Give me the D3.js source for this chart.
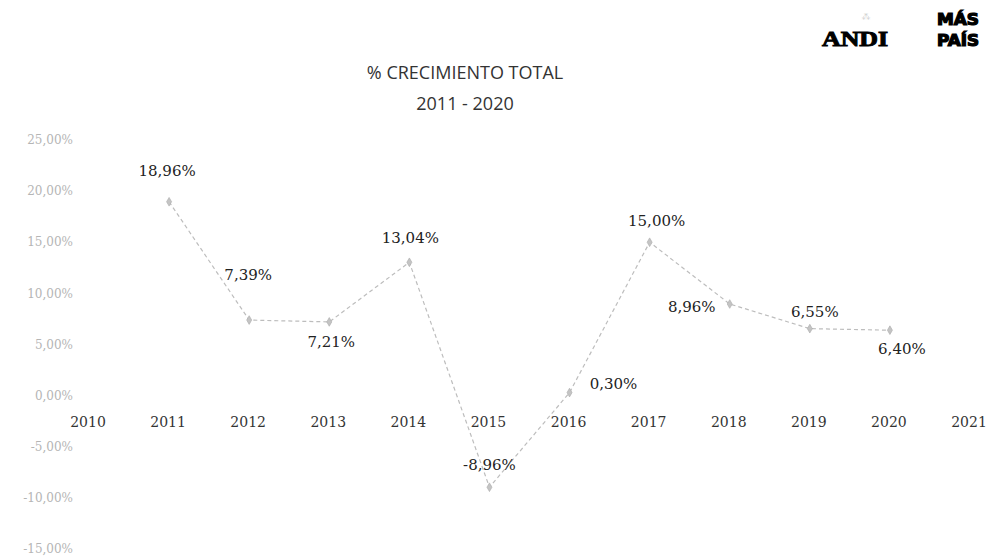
<!DOCTYPE html>
<html><head><meta charset="utf-8">
<script src="https://cdn.jsdelivr.net/npm/d3@7"></script>
<style>body{margin:0;background:#fff;}svg{display:block;}</style>
</head><body>
<svg id="c" width="992" height="558"></svg>
<script>
const years = [2011, 2012, 2013, 2014, 2015, 2016, 2017, 2018, 2019, 2020];
const growth = [18.96, 7.39, 7.21, 13.04, -8.96, 0.30, 15.00, 8.96, 6.55, 6.40];
const xTicks = [2010, 2011, 2012, 2013, 2014, 2015, 2016, 2017, 2018, 2019, 2020, 2021];
const yTicks = [-15, -10, -5, 0, 5, 10, 15, 20, 25];
const titleLines = ["% CRECIMIENTO TOTAL", "2011 - 2020"];
// label placement offsets (style)
const labelOffsets = [[-2,-31],[-1,-45],[2,20],[1,-25],[0,-22],[44,-9],[7,-22],[-38,3],[5,-17],[12,19]];

const svg = d3.select("#c");
const x = d3.scaleLinear().domain([2010, 2021]).range([89, 970]);
const y = d3.scaleLinear().domain([-15, 25]).range([549, 140]);
const fmt = v => d3.format(".2f")(v).replace(".", ",").replace("\u2212", "-") + "%";

// title
svg.append("g").selectAll("text").data(titleLines).join("text")
  .attr("x", 465).attr("y", (d,i) => 79 + i*31)
  .attr("text-anchor", "middle")
  .attr("font-family", "Open Sans, Noto Sans, sans-serif")
  .attr("font-size", 18).attr("fill", "#333")
  .text(d => d);

// y axis labels
svg.append("g").selectAll("text").data(yTicks).join("text")
  .attr("x", 73).attr("y", d => y(d)).attr("dy", "0.35em")
  .attr("text-anchor", "end")
  .attr("font-family", "DejaVu Serif, serif").attr("font-size", 12)
  .attr("fill", "#b5b5b5")
  .text(d => fmt(d));

// x axis labels
svg.append("g").selectAll("text").data(xTicks).join("text")
  .attr("x", d => x(d) - 1).attr("y", 422).attr("dy", "0.35em")
  .attr("text-anchor", "middle")
  .attr("font-family", "DejaVu Serif, serif").attr("font-size", 14)
  .attr("fill", "#333")
  .text(d => d);

const pts = years.map((yr, i) => ({yr, v: growth[i], off: labelOffsets[i]}));

// line
svg.append("path").datum(pts)
  .attr("fill", "none").attr("stroke", "#bdbdbd").attr("stroke-width", 1.2)
  .attr("stroke-dasharray", "4,3")
  .attr("d", d3.line().x(d => x(d.yr)).y(d => y(d.v)));

// markers
svg.append("g").selectAll("path").data(pts).join("path")
  .attr("transform", d => `translate(${x(d.yr)},${y(d.v)})`)
  .attr("d", d3.symbol().type(d3.symbolDiamond).size(22))
  .attr("fill", "#c4c4c4").attr("stroke", "#aaa").attr("stroke-width", 0.6);

// data labels
svg.append("g").selectAll("text").data(pts).join("text")
  .attr("x", d => x(d.yr) + d.off[0]).attr("y", d => y(d.v) + d.off[1]).attr("dy", "0.35em")
  .attr("text-anchor", "middle")
  .attr("font-family", "DejaVu Serif, serif").attr("font-size", 15)
  .attr("fill", "#222")
  .text(d => fmt(d.v));

// logos
const lg = svg.append("g");
lg.append("text").attr("x", 855).attr("y", 46).attr("text-anchor", "middle")
  .attr("font-family", "Liberation Serif, serif").attr("font-weight", "bold")
  .attr("font-size", 22).attr("textLength", 66).attr("lengthAdjust", "spacingAndGlyphs")
  .attr("fill", "#000").attr("stroke", "#000").attr("stroke-width", 1).text("ANDI");
lg.append("text").attr("x", 866).attr("y", 20).attr("text-anchor", "middle")
  .attr("font-family", "DejaVu Sans, sans-serif").attr("font-size", 9)
  .attr("fill", "#ccc").text("⁂");
lg.append("text").attr("x", 958).attr("y", 25).attr("text-anchor", "middle")
  .attr("font-family", "DejaVu Sans, sans-serif").attr("font-weight", "bold")
  .attr("font-size", 15).attr("textLength", 42).attr("lengthAdjust", "spacingAndGlyphs")
  .attr("fill", "#000").attr("stroke", "#000").attr("stroke-width", 1.2).text("MÁS");
lg.append("text").attr("x", 958).attr("y", 46).attr("text-anchor", "middle")
  .attr("font-family", "DejaVu Sans, sans-serif").attr("font-weight", "bold")
  .attr("font-size", 15).attr("textLength", 42).attr("lengthAdjust", "spacingAndGlyphs")
  .attr("fill", "#000").attr("stroke", "#000").attr("stroke-width", 1.2).text("PAÍS");
</script>
</body></html>
